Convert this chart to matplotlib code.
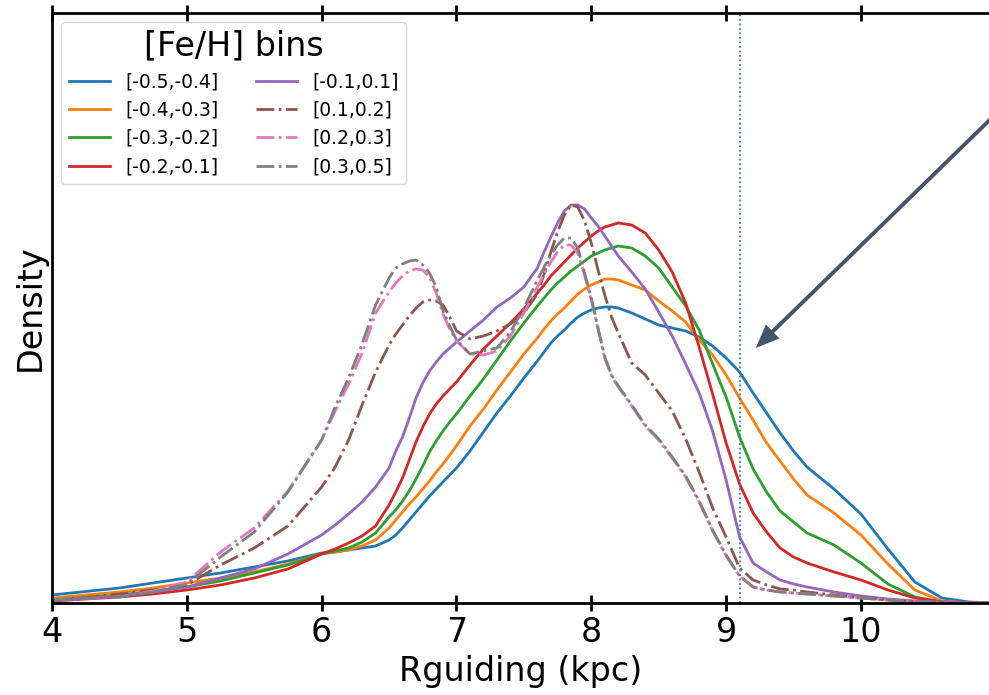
import numpy as np
import matplotlib
matplotlib.use('Agg')
import matplotlib.pyplot as plt

# Radio guía (kpc) en que se leyeron las curvas
R = [4.0, 4.5, 4.75, 5.0, 5.25, 5.5, 5.75,
     6.0, 6.1, 6.2, 6.3, 6.4,
     6.5, 6.55, 6.6, 6.65, 6.7, 6.75, 6.8, 6.85, 6.9, 6.95,
     7.0, 7.1, 7.2, 7.3, 7.4, 7.5,
     7.6, 7.65, 7.7, 7.75, 7.8, 7.85, 7.9, 7.95, 8.0, 8.05, 8.1, 8.15,
     8.2, 8.3, 8.4, 8.5, 8.6, 8.7, 8.8, 8.9, 9.0,
     9.1, 9.2, 9.3, 9.4, 9.5, 9.6,
     9.8, 10.0, 10.2, 10.4, 10.6, 10.8, 11.0]

# densidades por bin de [Fe/H]
d_m05_m04 = [0.008, 0.015, 0.020, 0.025, 0.030, 0.036, 0.042,
             0.050, 0.051, 0.053, 0.055, 0.057,
             0.063, 0.068, 0.075, 0.083, 0.091, 0.099, 0.107, 0.114, 0.121, 0.128,
             0.135, 0.152, 0.171, 0.190, 0.207, 0.225,
             0.242, 0.251, 0.260, 0.267, 0.273, 0.280, 0.286, 0.290, 0.293, 0.295, 0.296, 0.296,
             0.295, 0.290, 0.284, 0.278, 0.275, 0.272, 0.266, 0.257, 0.245,
             0.231, 0.210, 0.190, 0.170, 0.152, 0.136,
             0.114, 0.089, 0.054, 0.021, 0.005, 0.001, 0.000]
d_m04_m03 = [0.005, 0.011, 0.015, 0.020, 0.025, 0.031, 0.039,
             0.049, 0.051, 0.053, 0.057, 0.063,
             0.075, 0.083, 0.091, 0.099, 0.106, 0.114, 0.122, 0.131, 0.139, 0.148,
             0.157, 0.177, 0.194, 0.213, 0.231, 0.249,
             0.265, 0.274, 0.282, 0.289, 0.295, 0.302, 0.309, 0.314, 0.318, 0.321, 0.324, 0.324,
             0.323, 0.318, 0.313, 0.302, 0.292, 0.281, 0.263, 0.248, 0.228,
             0.205, 0.183, 0.160, 0.142, 0.124, 0.108,
             0.090, 0.068, 0.039, 0.013, 0.002, 0.000, 0.000]
d_m03_m02 = [0.003, 0.008, 0.012, 0.016, 0.022, 0.030, 0.038,
             0.049, 0.052, 0.055, 0.061, 0.070,
             0.086, 0.093, 0.102, 0.112, 0.124, 0.137, 0.151, 0.162, 0.172, 0.181,
             0.189, 0.207, 0.224, 0.243, 0.262, 0.280,
             0.297, 0.305, 0.313, 0.320, 0.326, 0.332, 0.337, 0.342, 0.347, 0.350, 0.353, 0.355,
             0.357, 0.355, 0.347, 0.335, 0.316, 0.297, 0.273, 0.239, 0.206,
             0.166, 0.134, 0.111, 0.092, 0.081, 0.070,
             0.058, 0.040, 0.019, 0.006, 0.001, 0.000, 0.000]
d_m02_m01 = [0.002, 0.006, 0.009, 0.013, 0.018, 0.025, 0.034,
             0.049, 0.054, 0.060, 0.067, 0.077,
             0.098, 0.111, 0.125, 0.143, 0.161, 0.176, 0.189, 0.199, 0.207, 0.214,
             0.221, 0.238, 0.254, 0.267, 0.280, 0.294,
             0.310, 0.318, 0.327, 0.334, 0.341, 0.348, 0.355, 0.361, 0.367, 0.372, 0.376, 0.378,
             0.380, 0.378, 0.370, 0.353, 0.331, 0.300, 0.256, 0.209, 0.160,
             0.119, 0.090, 0.071, 0.055, 0.046, 0.040,
             0.031, 0.023, 0.013, 0.005, 0.001, 0.000, 0.000]
d_m01_p01 = [0.002, 0.007, 0.011, 0.016, 0.025, 0.034, 0.049,
             0.068, 0.078, 0.089, 0.101, 0.116,
             0.135, 0.152, 0.166, 0.185, 0.205, 0.220, 0.232, 0.241, 0.249, 0.255,
             0.261, 0.272, 0.283, 0.296, 0.305, 0.316,
             0.335, 0.351, 0.366, 0.380, 0.392, 0.398, 0.398, 0.394, 0.385, 0.377, 0.367, 0.357,
             0.347, 0.331, 0.314, 0.291, 0.267, 0.239, 0.210, 0.172, 0.123,
             0.066, 0.040, 0.031, 0.023, 0.019, 0.016,
             0.011, 0.007, 0.004, 0.002, 0.001, 0.000, 0.000]
d_p01_p02 = [0.002, 0.009, 0.013, 0.018, 0.038, 0.055, 0.077,
             0.116, 0.136, 0.163, 0.198, 0.231,
             0.258, 0.269, 0.278, 0.287, 0.295, 0.301, 0.303, 0.302, 0.298, 0.286,
             0.272, 0.264, 0.267, 0.272, 0.279, 0.290,
             0.309, 0.329, 0.351, 0.371, 0.388, 0.398, 0.396, 0.382, 0.360, 0.333, 0.308, 0.286,
             0.270, 0.240, 0.228, 0.210, 0.192, 0.164, 0.131, 0.095, 0.066,
             0.035, 0.023, 0.018, 0.014, 0.013, 0.011,
             0.008, 0.005, 0.003, 0.001, 0.000, 0.000, 0.000]
d_p02_p03 = [0.003, 0.006, 0.012, 0.021, 0.051, 0.075, 0.112,
             0.163, 0.192, 0.219, 0.250, 0.290,
             0.311, 0.320, 0.327, 0.332, 0.334, 0.333, 0.326, 0.310, 0.289, 0.274,
             0.262, 0.249, 0.248, 0.252, 0.267, 0.290,
             0.316, 0.329, 0.341, 0.351, 0.358, 0.358, 0.350, 0.328, 0.303, 0.274, 0.245, 0.227,
             0.216, 0.197, 0.177, 0.163, 0.145, 0.126, 0.101, 0.072, 0.047,
             0.027, 0.016, 0.013, 0.011, 0.010, 0.009,
             0.007, 0.005, 0.003, 0.001, 0.000, 0.000, 0.000]
d_p03_p05 = [0.003, 0.006, 0.011, 0.019, 0.046, 0.071, 0.111,
             0.163, 0.196, 0.225, 0.259, 0.298,
             0.325, 0.335, 0.339, 0.342, 0.343, 0.338, 0.330, 0.316, 0.292, 0.277,
             0.263, 0.249, 0.252, 0.255, 0.271, 0.295,
             0.323, 0.336, 0.348, 0.358, 0.365, 0.365, 0.355, 0.330, 0.305, 0.275, 0.246, 0.228,
             0.217, 0.198, 0.178, 0.164, 0.146, 0.127, 0.102, 0.073, 0.048,
             0.027, 0.016, 0.013, 0.011, 0.010, 0.009,
             0.007, 0.005, 0.003, 0.001, 0.000, 0.000, 0.000]

etiquetas = ['[-0.5,-0.4]', '[-0.4,-0.3]', '[-0.3,-0.2]', '[-0.2,-0.1]',
             '[-0.1,0.1]', '[0.1,0.2]', '[0.2,0.3]', '[0.3,0.5]']
curvas = [d_m05_m04, d_m04_m03, d_m03_m02, d_m02_m01,
          d_m01_p01, d_p01_p02, d_p02_p03, d_p03_p05]
colores = ['tab:blue', 'tab:orange', 'tab:green', 'tab:red',
           'tab:purple', 'tab:brown', 'tab:pink', 'tab:gray']
estilos = ['-', '-', '-', '-', '-', '-.', '-.', '-.']

R_corte = 9.1  # línea vertical punteada

fig = plt.figure(figsize=(9.89, 6.95), dpi=100)
ax = fig.add_axes([0.0526, 0.1324, 0.9474, 0.8489])

for y, lab, c, ls in zip(curvas, etiquetas, colores, estilos):
    ax.plot(R, y, color=c, ls=ls, lw=2, label=lab)

ax.axvline(R_corte, color='#2e7bb0', ls=(0, (1, 1.5)), lw=1.3)

ax.set_xlim(4, 10.95)
ax.set_ylim(0, 0.59)
ax.set_xticks([4, 5, 6, 7, 8, 9, 10])
ax.set_yticks([])
ax.tick_params(axis='x', which='both', direction='inout', length=12, width=2,
               top=True, labelsize=24)
for s in ['left', 'bottom', 'top']:
    ax.spines[s].set_linewidth(2)
ax.spines['right'].set_visible(False)

ax.set_xlabel('Rguiding (kpc)', fontsize=24)
ax.set_ylabel('Density', fontsize=24)

ax.legend(title='[Fe/H] bins', ncol=2, loc='upper left', fontsize=13.5,
          title_fontsize=24, handlelength=2.2)

# flecha añadida encima de la figura
ax.annotate('', xy=(9.22, 0.255), xytext=(10.97, 0.485),
            arrowprops=dict(facecolor='#44546a', edgecolor='none', lw=0,
                            width=2.8, headwidth=14, headlength=17, shrink=0),
            annotation_clip=False)

fig.savefig('out.png', dpi=100)
